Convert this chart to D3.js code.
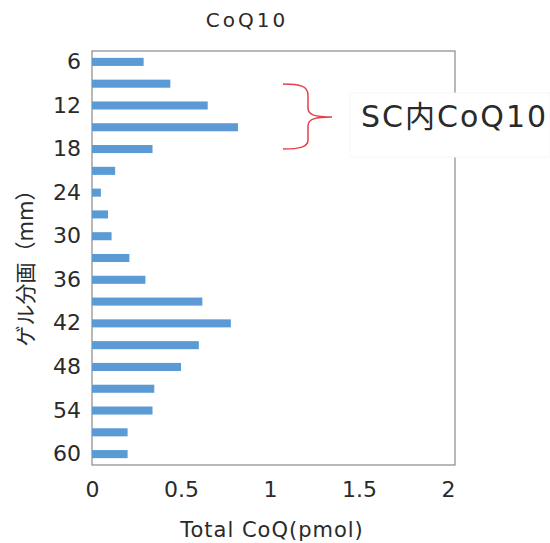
<!DOCTYPE html>
<html>
<head>
<meta charset="utf-8">
<script src="https://cdn.jsdelivr.net/npm/d3@7"></script>
<style>
  body { margin: 0; background: #fff; }
  text { font-family: "DejaVu Sans", "Noto Sans CJK JP", sans-serif; fill: #2a2a2a; }
</style>
</head>
<body>
<svg id="chart" width="550" height="543"></svg>
<script>
// gel fraction (mm) and total CoQ (pmol)
const fractions = [6, 9, 12, 15, 18, 21, 24, 27, 30, 33, 36, 39, 42, 45, 48, 51, 54, 57, 60];
const totalCoQ = [0.29, 0.44, 0.65, 0.82, 0.34, 0.13, 0.05, 0.09, 0.11, 0.21, 0.30, 0.62, 0.78, 0.60, 0.50, 0.35, 0.34, 0.20, 0.20];
const labelledFractions = [6, 12, 18, 24, 30, 36, 42, 48, 54, 60];
const xTicks = [0, 0.5, 1, 1.5, 2];

const svg = d3.select("#chart");
const plotLeft = 92, plotRight = 455, plotTop = 51, plotBottom = 465;

const x = d3.scaleLinear().domain([0, 2]).range([plotLeft, 448]);
const y = d3.scaleBand().domain(fractions).range([plotTop, plotBottom]).paddingInner(0.63).paddingOuter(0.315);

// plot frame
svg.append("rect")
    .attr("x", plotLeft).attr("y", plotTop)
    .attr("width", plotRight - plotLeft).attr("height", plotBottom - plotTop)
    .attr("fill", "none").attr("stroke", "#8a8a8a").attr("stroke-width", 1.2);

// bars
svg.append("g")
    .selectAll("rect")
    .data(fractions)
    .join("rect")
    .attr("x", x(0))
    .attr("y", d => y(d))
    .attr("height", y.bandwidth())
    .attr("width", (d, i) => x(totalCoQ[i]) - x(0))
    .attr("fill", "#5b9bd5");

// y axis labels
const yAxis = svg.append("g")
    .attr("transform", `translate(${plotLeft},0)`)
    .call(d3.axisLeft(y).tickValues(labelledFractions).tickSize(0).tickPadding(11));
yAxis.attr("font-family", null);
yAxis.select(".domain").remove();
yAxis.selectAll("text").style("font-size", "22px").attr("fill", "#2a2a2a");

// x axis labels
const xAxis = svg.append("g")
    .attr("transform", `translate(0,${plotBottom})`)
    .call(d3.axisBottom(x).tickValues(xTicks).tickSize(0).tickPadding(16).tickFormat(d3.format("")));
xAxis.attr("font-family", null);
xAxis.select(".domain").remove();
xAxis.selectAll("text").style("font-size", "22px").attr("fill", "#2a2a2a");

// titles
svg.append("text")
    .attr("x", 247).attr("y", 27)
    .attr("text-anchor", "middle")
    .style("font-size", "20px")
    .style("letter-spacing", "3px")
    .text("CoQ10");

svg.append("text")
    .attr("x", 272).attr("y", 537)
    .attr("text-anchor", "middle")
    .style("font-size", "21px")
    .style("letter-spacing", "1px")
    .text("Total CoQ(pmol)");

svg.append("text")
    .attr("transform", "translate(33,263) rotate(-90)")
    .attr("text-anchor", "middle")
    .style("font-size", "21px")
    .text("ゲル分画（mm）");

// annotation box and brace
svg.append("rect")
    .attr("x", 350).attr("y", 93)
    .attr("width", 200).attr("height", 64)
    .attr("fill", "#fff").attr("stroke", "#f6f6f6");

svg.append("text")
    .attr("x", 361).attr("y", 127)
    .style("font-size", "30px")
    .style("letter-spacing", "2px")
    .text("SC内CoQ10");

svg.append("path")
    .attr("d", "M283,84 C300,84 308,86 308,95 L308,108 C308,115 315,117 332,117 C315,117 308,119 308,126 L308,140 C308,147 300,149 283,149")
    .attr("fill", "none")
    .attr("stroke", "#e8404a")
    .attr("stroke-width", 1.5);
</script>
</body>
</html>
